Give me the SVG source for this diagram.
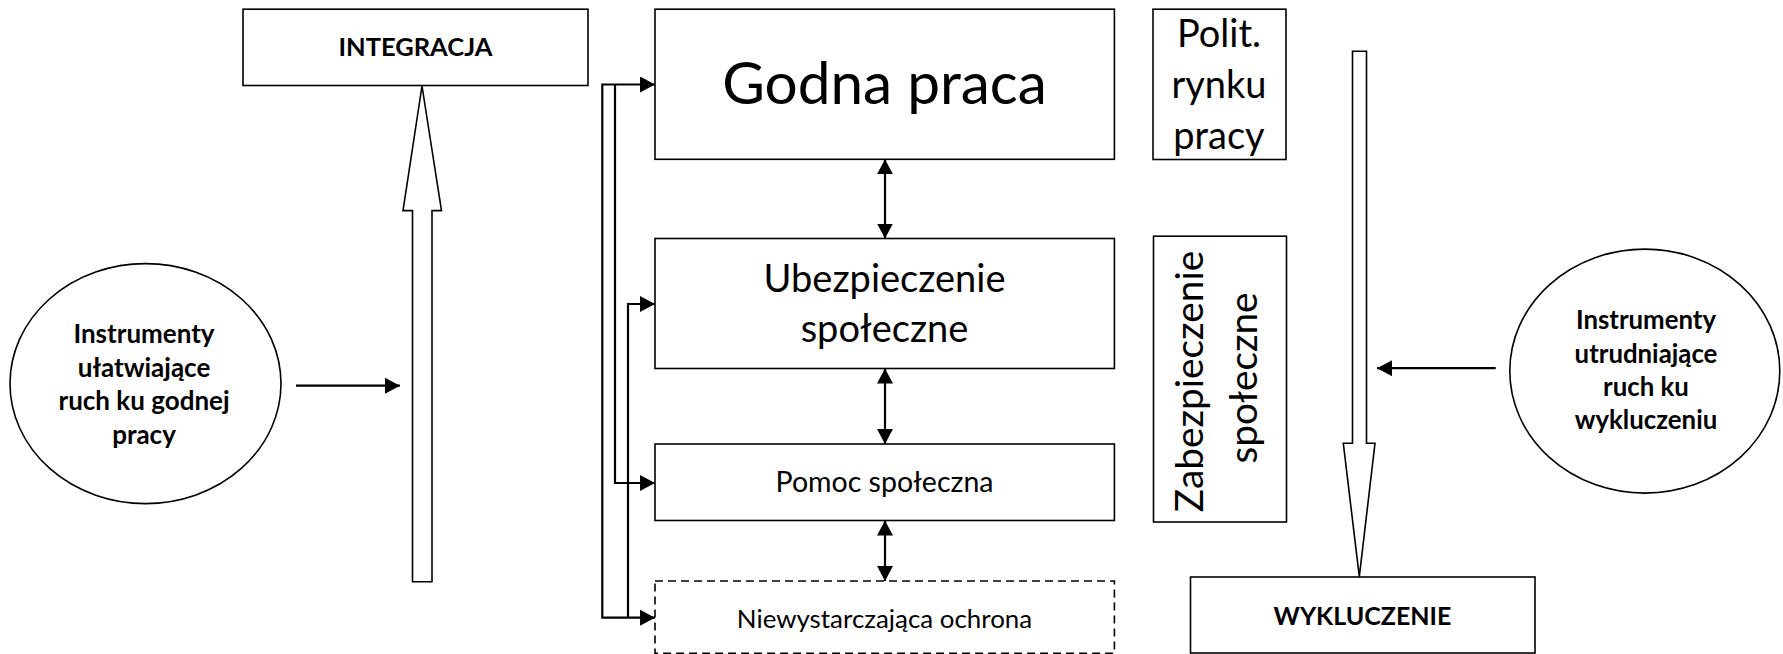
<svg xmlns="http://www.w3.org/2000/svg" width="1783" height="654" viewBox="0 0 1783 654">
<style>
.box{fill:#fff;stroke:#000;stroke-width:1.6}
.dash{fill:#fff;stroke:#000;stroke-width:1.6;stroke-dasharray:8 5}
.hollow{fill:#fff;stroke:#000;stroke-width:1.6;stroke-linejoin:miter}
.conn{fill:none;stroke:#000;stroke-width:2.2}
text{font-family:Lato,"Liberation Sans",sans-serif;fill:#000;text-anchor:middle}
.b{font-weight:bold}
</style>
<defs>
<marker id="ah" markerUnits="userSpaceOnUse" markerWidth="16" markerHeight="16" refX="15" refY="8" orient="auto-start-reverse">
<path d="M0,0 L15,8 L0,16 z" fill="#000"/>
</marker>
</defs>
<rect width="1783" height="654" fill="#fff"/>

<g id="integracja">
<rect class="box" x="243" y="9.2" width="345" height="76.3"/>
<text class="b" x="415.5" y="56.3" font-size="25.5">INTEGRACJA</text>
</g>

<g id="arrow-up">
<polygon class="hollow" points="422,86 441.5,210.6 432,210.6 432,581.7 412.5,581.7 412.5,210.6 403,210.6"/>
</g>

<g id="instr-left">
<ellipse class="box" cx="145.5" cy="383.6" rx="135.5" ry="120"/>
<text class="b" font-size="26"><tspan x="144" y="342.7">Instrumenty</tspan><tspan x="144" y="376.5">ułatwiające</tspan><tspan x="144" y="410.3">ruch ku godnej</tspan><tspan x="144" y="444">pracy</tspan></text>
</g>

<g id="godna-praca">
<rect class="box" x="655" y="9.2" width="459.4" height="150.1"/>
<text x="884.5" y="104.3" font-size="58.5">Godna praca</text>
</g>

<g id="ubezpieczenie">
<rect class="box" x="655" y="238.5" width="459.4" height="130"/>
<text font-size="38"><tspan x="884.5" y="291.7">Ubezpieczenie</tspan><tspan x="884.5" y="341.7">społeczne</tspan></text>
</g>

<g id="pomoc">
<rect class="box" x="655" y="444" width="459.4" height="76.5"/>
<text x="884.5" y="492" font-size="28.5">Pomoc społeczna</text>
</g>

<g id="niewystarczajaca">
<rect class="dash" x="655" y="581" width="459.4" height="72.3"/>
<text x="884.5" y="628.3" font-size="25.9">Niewystarczająca ochrona</text>
</g>

<g id="polit">
<rect class="box" x="1153" y="9.2" width="133" height="150.3"/>
<text font-size="38"><tspan x="1219" y="46.7">Polit.</tspan><tspan x="1219" y="98.3">rynku</tspan><tspan x="1219" y="149.3">pracy</tspan></text>
</g>

<g id="zabezpieczenie">
<rect class="box" x="1153.5" y="236.2" width="133" height="285.8"/>
<text font-size="38.8" transform="translate(1203.3,381.5) rotate(-90)">Zabezpieczenie</text>
<text font-size="38.8" transform="translate(1256.7,378) rotate(-90)">społeczne</text>
</g>

<g id="arrow-down">
<polygon class="hollow" points="1359.3,576.7 1375,443.3 1366.5,443.3 1366.5,51.3 1352.5,51.3 1352.5,443.3 1343.3,443.3"/>
</g>

<g id="wykluczenie">
<rect class="box" x="1190.5" y="577" width="344.5" height="76"/>
<text class="b" x="1362.5" y="625" font-size="25">WYKLUCZENIE</text>
</g>

<g id="instr-right">
<ellipse class="box" cx="1644.8" cy="371.1" rx="135" ry="122"/>
<text class="b" font-size="25.8"><tspan x="1646" y="329.3">Instrumenty</tspan><tspan x="1646" y="362.7">utrudniające</tspan><tspan x="1646" y="396">ruch ku</tspan><tspan x="1646" y="428.5">wykluczeniu</tspan></text>
</g>

<g id="connectors">
<path class="conn" d="M296,385.7 H400" marker-end="url(#ah)"/>
<path class="conn" d="M1495.7,368.2 H1377" marker-end="url(#ah)"/>
<path class="conn" d="M885,159.3 V238.5" marker-start="url(#ah)" marker-end="url(#ah)"/>
<path class="conn" d="M885,368.6 V444" marker-start="url(#ah)" marker-end="url(#ah)"/>
<path class="conn" d="M885,520.5 V581" marker-start="url(#ah)" marker-end="url(#ah)"/>
<path class="conn" d="M655,84.5 H602.3 V617.7 H655" marker-start="url(#ah)" marker-end="url(#ah)"/>
<path class="conn" d="M615,84.5 V483 H655" marker-end="url(#ah)"/>
<path class="conn" d="M628,617.7 V304 H655" marker-end="url(#ah)"/>
</g>
</svg>
